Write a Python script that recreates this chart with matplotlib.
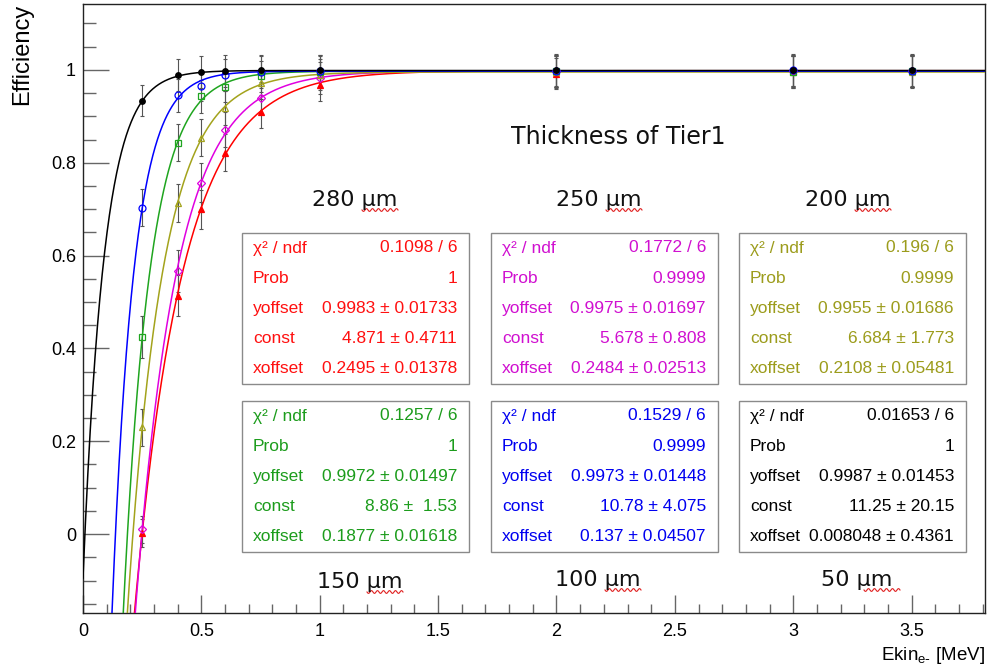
import numpy as np
import matplotlib
matplotlib.use('Agg')
from matplotlib import pyplot as plt
from matplotlib.ticker import MultipleLocator, FormatStrFormatter
from matplotlib.patches import Rectangle

plt.rcParams['font.family'] = ['Liberation Sans', 'DejaVu Sans']

# beam energies (MeV) and measured efficiencies for each Tier1 thickness
energy = [0.25, 0.4, 0.5, 0.6, 0.75, 1.0, 2.0, 3.0, 3.5]

eff_50 = [0.934, 0.989, 0.995, 0.998, 0.999, 0.999, 1.000, 0.999, 1.000]
eff_100 = [0.703, 0.945, 0.966, 0.989, 0.996, 0.998, 0.998, 1.000, 0.998]
eff_150 = [0.425, 0.843, 0.943, 0.964, 0.986, 0.996, 0.998, 0.996, 0.998]
eff_200 = [0.230, 0.714, 0.854, 0.918, 0.971, 0.990, 0.996, 0.995, 0.996]
eff_250 = [0.010, 0.566, 0.757, 0.871, 0.940, 0.983, 0.997, 0.997, 0.997]
eff_280 = [0.003, 0.514, 0.700, 0.822, 0.910, 0.968, 0.992, 0.998, 0.998]

err_50 = [0.033, 0.034, 0.034, 0.034, 0.034, 0.034, 0.034, 0.034, 0.034]
err_100 = [0.040, 0.035, 0.034, 0.034, 0.034, 0.034, 0.034, 0.034, 0.034]
err_150 = [0.045, 0.040, 0.035, 0.034, 0.034, 0.034, 0.034, 0.034, 0.034]
err_200 = [0.040, 0.041, 0.040, 0.036, 0.034, 0.034, 0.034, 0.034, 0.034]
err_250 = [0.030, 0.045, 0.042, 0.038, 0.035, 0.034, 0.034, 0.034, 0.034]
err_280 = [0.030, 0.045, 0.042, 0.040, 0.036, 0.034, 0.034, 0.034, 0.034]

# fit results: chi2/ndf, prob, (yoffset, err), (const, err), (xoffset, err)
thickness = ['280 µm', '250 µm', '200 µm', '150 µm', '100 µm', '50 µm']
chi2 = ['0.1098 / 6', '0.1772 / 6', '0.196 / 6', '0.1257 / 6', '0.1529 / 6', '0.01653 / 6']
prob = ['1', '0.9999', '0.9999', '1', '0.9999', '1']
yoffset = [0.9983, 0.9975, 0.9955, 0.9972, 0.9973, 0.9987]
yoffset_err = ['0.01733', '0.01697', '0.01686', '0.01497', '0.01448', '0.01453']
const = [4.871, 5.678, 6.684, 8.86, 10.78, 11.25]
const_err = ['0.4711', '0.808', '1.773', ' 1.53', '4.075', '20.15']
xoffset = [0.2495, 0.2484, 0.2108, 0.1877, 0.137, 0.008048]
xoffset_err = ['0.01378', '0.02513', '0.05481', '0.01618', '0.04507', '0.4361']

effs = [eff_280, eff_250, eff_200, eff_150, eff_100, eff_50]
errs = [err_280, err_250, err_200, err_150, err_100, err_50]
colors = ['#ff0000', '#e000e0', '#a3a31c', '#1fa51f', '#0000ff', '#000000']
text_colors = ['#ff1010', '#d010d0', '#9c9c1c', '#1c9c1c', '#0000f0', '#000000']
markers = ['^', 'D', '^', 's', 'o', 'o']
filled = [True, False, False, False, False, True]
msizes = [4, 4, 5, 5, 5, 4]

# stats box corners (left, top) in pixels, and label centres
box_pos = [(242, 233), (491, 233), (739, 233), (242, 401), (491, 401), (739, 401)]
label_pos = [(355, 200), (599, 200), (848, 200), (360, 582), (598, 580), (857, 580)]
BOX_W, BOX_H = 227, 151

W, H = 990, 671
fig = plt.figure(figsize=(W / 100, H / 100), dpi=100)
ax = fig.add_axes([83 / W, 1 - 613 / H, 902 / W, 609 / H])


def px(x, y):
    return x / W, 1 - y / H


xs = np.linspace(0, 3.81, 1500)
for i in range(len(effs)):
    curve = yoffset[i] * (1 - np.exp(-const[i] * (xs - xoffset[i])))
    ax.plot(xs, curve, color=colors[i], lw=1.1, zorder=3 + i * 0.1)
    ax.errorbar(energy, effs[i], yerr=errs[i], fmt='none', ecolor='#555555',
                elinewidth=0.8, capsize=1.6, capthick=0.8, zorder=2)
    ax.plot(energy, effs[i], linestyle='none', marker=markers[i], ms=msizes[i],
            mec=colors[i], mfc=colors[i] if filled[i] else 'none', mew=0.9,
            zorder=4)

ax.set_xlim(0, 3.81)
ax.set_ylim(-0.17, 1.142)
ax.xaxis.set_major_locator(MultipleLocator(0.5))
ax.xaxis.set_minor_locator(MultipleLocator(0.1))
ax.yaxis.set_major_locator(MultipleLocator(0.2))
ax.yaxis.set_minor_locator(MultipleLocator(0.05))
ax.xaxis.set_major_formatter(FormatStrFormatter('%g'))
ax.yaxis.set_major_formatter(FormatStrFormatter('%g'))
ax.tick_params(axis='both', which='both', direction='in', color='#666666',
               width=1, labelsize=13, top=False, right=False)
ax.tick_params(axis='y', which='major', length=19, pad=5)
ax.tick_params(axis='y', which='minor', length=9.5)
ax.tick_params(axis='x', which='major', length=13, pad=7)
ax.tick_params(axis='x', which='minor', length=6.5)
for sp in ax.spines.values():
    sp.set_linewidth(1.0)
    sp.set_color('#222222')

fig.text(*px(22, 4), 'Efficiency', rotation=90, ha='center', va='top', fontsize=17)
fig.text(*px(985, 655), r'Ekin$_{\mathregular{e\text{-}}}$ [MeV]', ha='right', va='center',
         fontsize=13.5)

fig.text(*px(618, 137), 'Thickness of Tier1', ha='center', va='center',
         fontsize=17, family=['DejaVu Sans'], color='#111111')

rows = ['χ² / ndf', 'Prob', 'yoffset', 'const', 'xoffset']
for i in range(len(thickness)):
    bx, by = box_pos[i]
    fig.patches.append(Rectangle(px(bx, by + BOX_H), BOX_W / W, BOX_H / H,
                                 transform=fig.transFigure, fill=False,
                                 edgecolor='#8a8a8a', lw=1.0))
    values = [chi2[i], prob[i],
              '%g ± %s' % (yoffset[i], yoffset_err[i]),
              '%g ± %s' % (const[i], const_err[i]),
              '%g ± %s' % (xoffset[i], xoffset_err[i])]
    for r in range(5):
        yy = by + 15 + r * 30.2
        fig.text(*px(bx + 11, yy), rows[r], ha='left', va='center',
                 fontsize=12.5, color=text_colors[i])
        fig.text(*px(bx + BOX_W - 12, yy), values[r], ha='right', va='center',
                 fontsize=12.5, color=text_colors[i])

    lx, ly = label_pos[i]
    fig.text(*px(lx, ly), thickness[i], ha='center', va='center', fontsize=16,
             family=['DejaVu Sans'], color='#111111')
    # spell-check squiggle under the unit
    wx = np.linspace(lx + 7, lx + 43, 60)
    wy = ly + 10 + 1.4 * np.sin((wx - wx[0]) * 2 * np.pi / 6)
    fig.lines.append(plt.Line2D(wx / W, 1 - wy / H, transform=fig.transFigure,
                                color='#e02020', lw=0.8))

fig.savefig('out.png', dpi=100)
